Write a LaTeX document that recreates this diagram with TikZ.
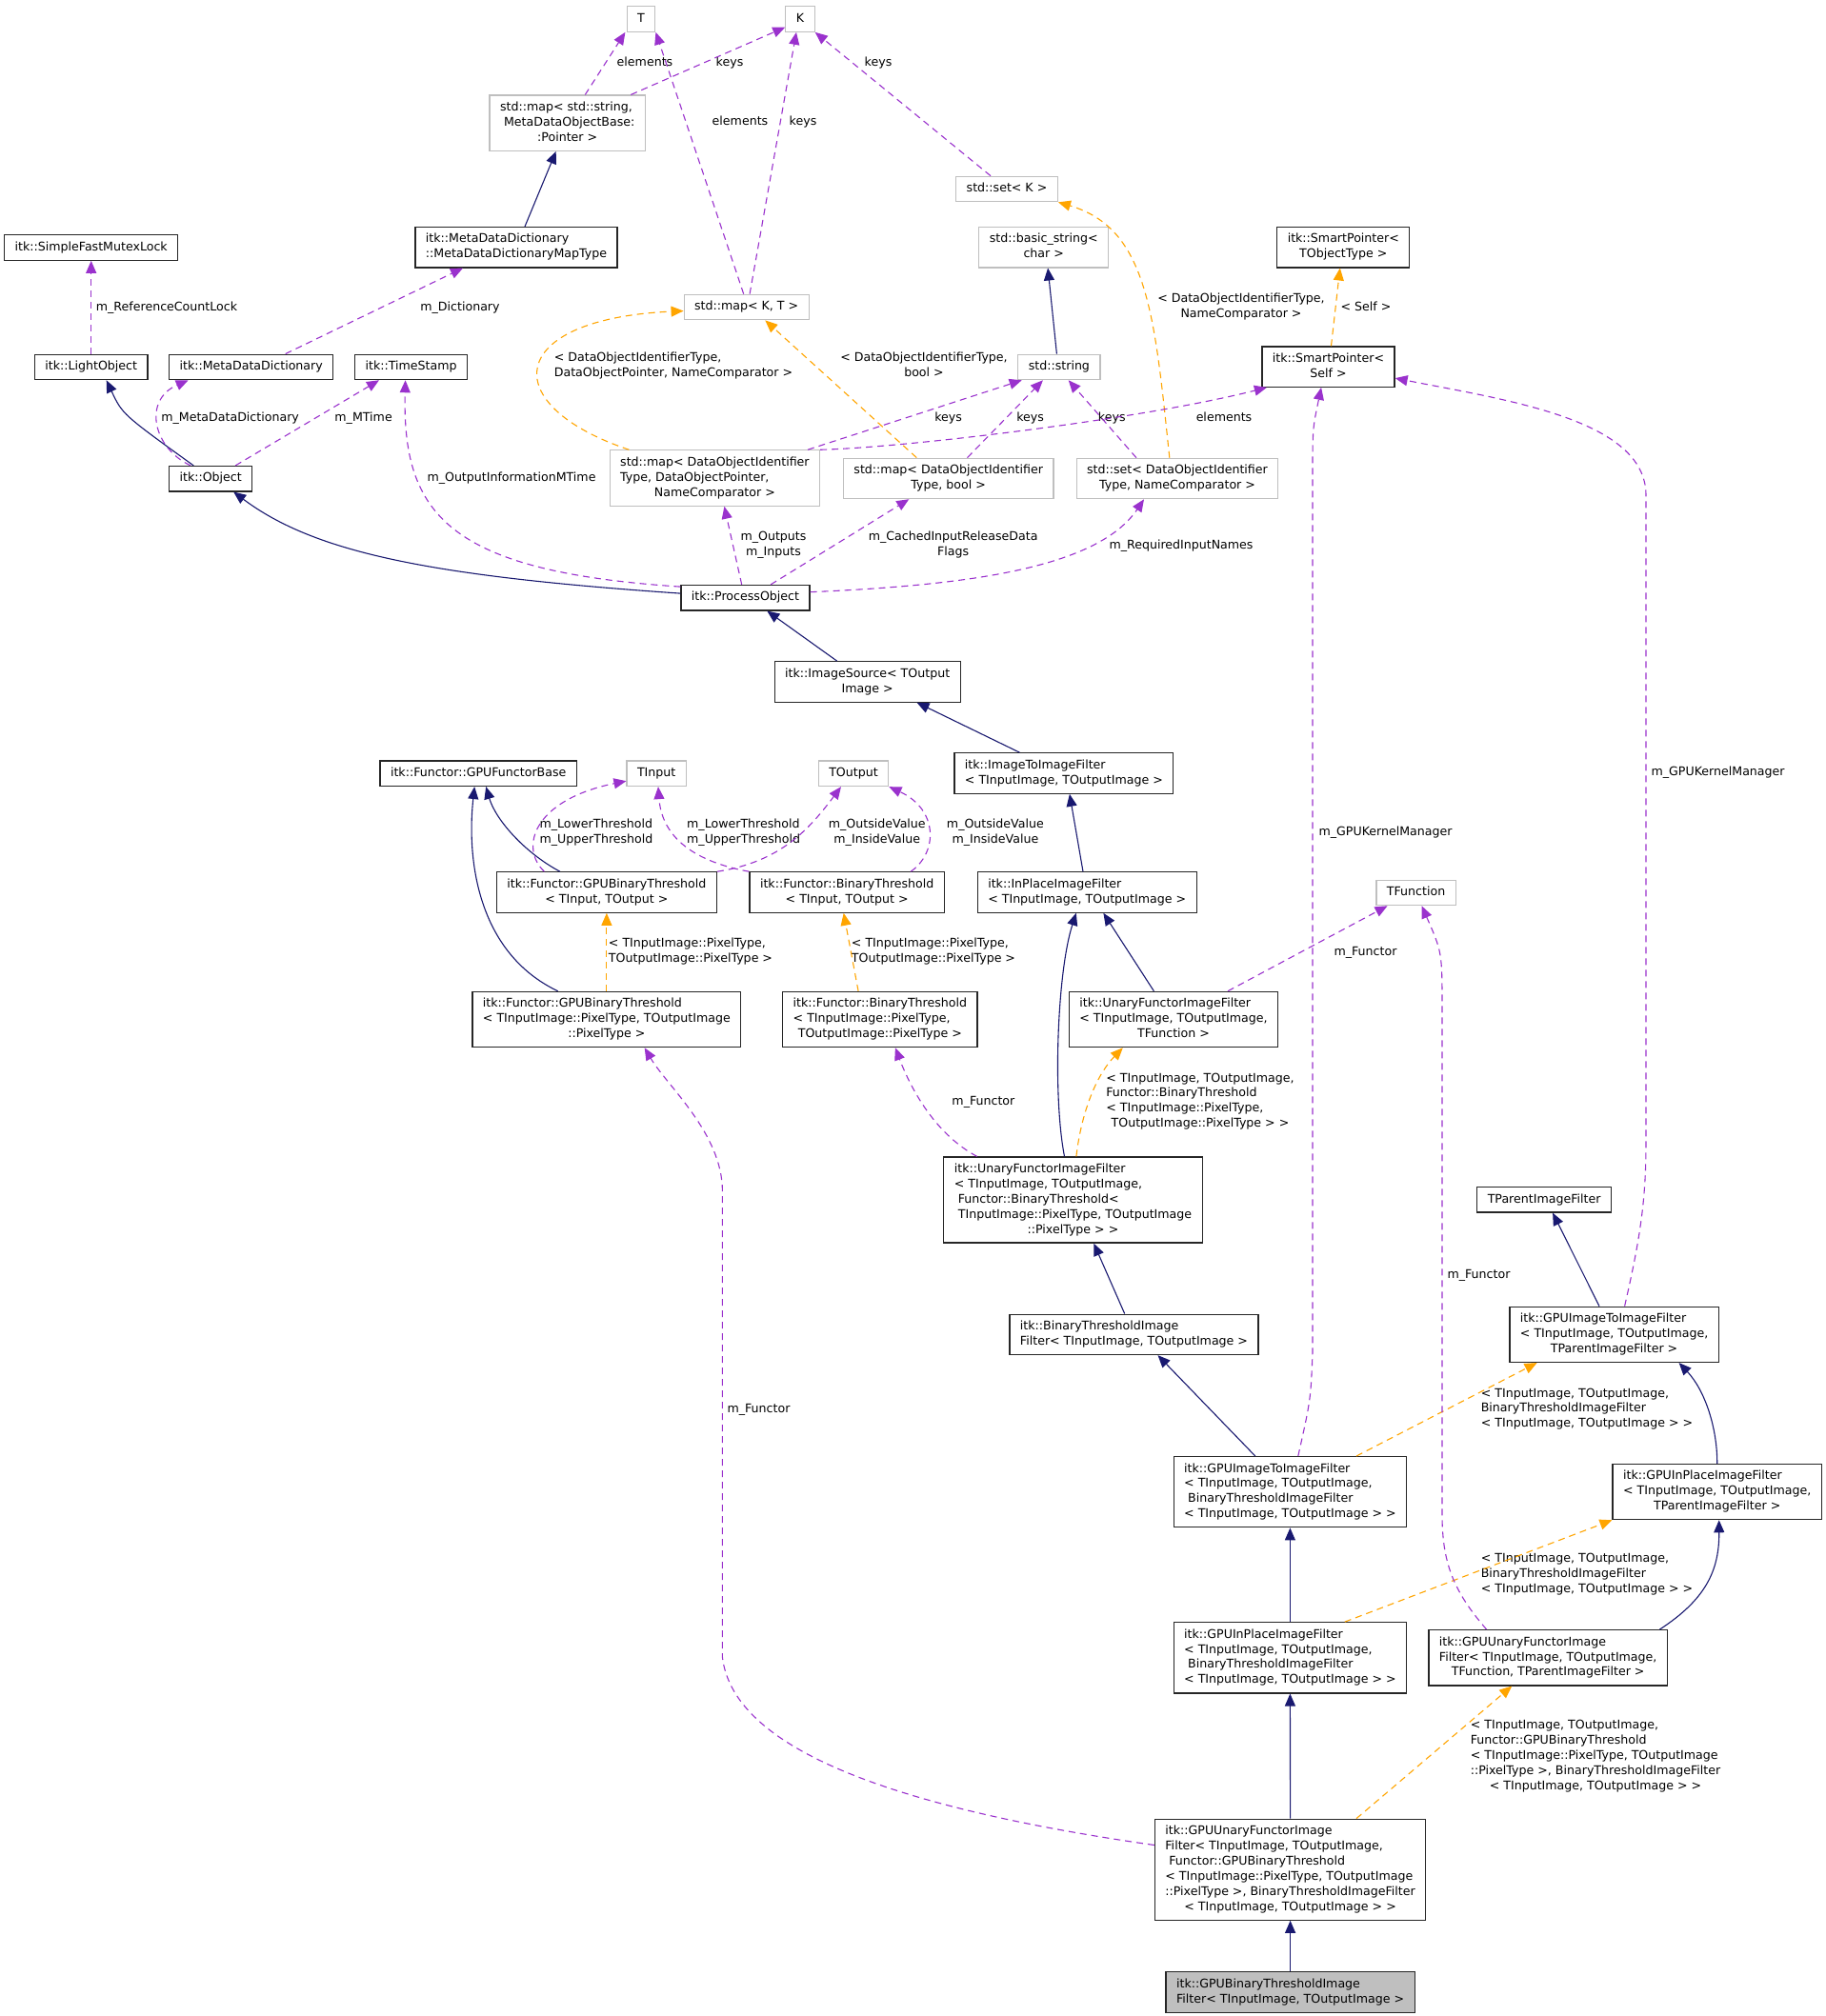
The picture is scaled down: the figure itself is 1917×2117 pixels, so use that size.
\documentclass[tikz,border=0pt]{standalone}
\usepackage{fontspec}
\setmainfont{DejaVu Sans}
\usetikzlibrary{arrows.meta}

\definecolor{inhblue}{HTML}{191970}
\definecolor{usepurple}{HTML}{9A32CD}
\definecolor{tplorange}{HTML}{FFA500}
\newcommand{\dxfont}{\fontsize{6.3pt}{7.95pt}\selectfont}
% all lines left, last line centred
\newcommand{\dlines}[2]{\begin{tabular}{@{}l@{}}#1\\\multicolumn{1}{@{}c@{}}{#2}\end{tabular}}

\begin{document}
\begin{tikzpicture}[x=0.5pt,y=-0.5pt,
  box/.style={draw=black!85,line width=0.6pt,fill=white,inner xsep=5.5pt,inner ysep=2.65pt,font=\dxfont,execute at begin node=\strut},
  extbox/.style={box,draw=black!25},
  mainbox/.style={box,fill=black!25},
  lbl/.style={inner sep=0pt,font=\dxfont,execute at begin node=\strut},
  inh/.style={draw=inhblue,line width=0.55pt,-{Triangle[length=6.5pt,width=5.5pt]}},
  usage/.style={draw=usepurple,line width=0.55pt,dash pattern=on 3.5pt off 2.5pt,-{Triangle[length=6.5pt,width=5.5pt]}},
  tmpl/.style={usage,draw=tplorange}]
\path[use as bounding box,fill=white] (0,0) rectangle (1917,2117);

% classes
\node[extbox] (nT) at (673,20) {T};
\node[extbox] (nK) at (840,20) {K};
\node[extbox] (nmapstr) at (595.7,129.2) {\dlines{std::map< std::string,\\\ MetaDataObjectBase:}{:Pointer >}};
\node[extbox] (nsetk) at (1057,198.5) {std::set< K >};
\node[box] (nmutex) at (95.7,260) {itk::SimpleFastMutexLock};
\node[box] (nmddmt) at (542,259.7) {\dlines{itk::MetaDataDictionary}{::MetaDataDictionaryMapType}};
\node[extbox] (nbstr) at (1095.7,259.7) {\dlines{std::basic\_string<}{char >}};
\node[box] (nspobj) at (1410.3,259.7) {\dlines{itk::SmartPointer<}{TObjectType >}};
\node[extbox] (nmapkt) at (783.7,322.5) {std::map< K, T >};
\node[box] (nlight) at (95.7,385.4) {itk::LightObject};
\node[box] (nmdd) at (263.7,385.4) {itk::MetaDataDictionary};
\node[box] (nstamp) at (431.6,385.4) {itk::TimeStamp};
\node[extbox] (nstr) at (1111.9,385.4) {std::string};
\node[box] (nspself) at (1394.5,385.1) {\dlines{itk::SmartPointer<}{Self >}};
\node[box] (nobj) at (221.2,502.7) {itk::Object};
\node[extbox] (nmapdop) at (750.4,502) {\dlines{std::map< DataObjectIdentifier\\Type, DataObjectPointer,}{NameComparator >}};
\node[extbox] (nmapbool) at (995.7,502.4) {\dlines{std::map< DataObjectIdentifier}{Type, bool >}};
\node[extbox] (nsetdoi) at (1236,502.5) {\dlines{std::set< DataObjectIdentifier}{Type, NameComparator >}};
\node[box] (nproc) at (782.5,627.7) {itk::ProcessObject};
\node[box] (nimgsrc) at (910.7,715.9) {\dlines{itk::ImageSource< TOutput}{Image >}};
\node[box] (nfbase) at (502.2,812.2) {itk::Functor::GPUFunctorBase};
\node[extbox] (ntin) at (689.2,812.3) {TInput};
\node[extbox] (ntout) at (896,812.3) {TOutput};
\node[box] (nitif) at (1116.9,812) {\dlines{itk::ImageToImageFilter}{< TInputImage, TOutputImage >}};
\node[box] (ngbt) at (636.9,937) {\dlines{itk::Functor::GPUBinaryThreshold}{< TInput, TOutput >}};
\node[box] (nbt) at (889.2,937) {\dlines{itk::Functor::BinaryThreshold}{< TInput, TOutput >}};
\node[box] (nipif) at (1141.2,937) {\dlines{itk::InPlaceImageFilter}{< TInputImage, TOutputImage >}};
\node[extbox] (ntfun) at (1486.6,937.4) {TFunction};
\node[box] (ngbtpix) at (636.9,1070.5) {\dlines{itk::Functor::GPUBinaryThreshold\\< TInputImage::PixelType, TOutputImage}{::PixelType >}};
\node[box] (nbtpix) at (923.9,1070.5) {\dlines{itk::Functor::BinaryThreshold\\< TInputImage::PixelType,}{TOutputImage::PixelType >}};
\node[box] (nufif) at (1232,1070.5) {\dlines{itk::UnaryFunctorImageFilter\\< TInputImage, TOutputImage,}{TFunction >}};
\node[box] (nufifbt) at (1126.5,1260) {\dlines{itk::UnaryFunctorImageFilter\\< TInputImage, TOutputImage,\\\ Functor::BinaryThreshold<\\\ TInputImage::PixelType, TOutputImage}{::PixelType > >}};
\node[box] (ntparent) at (1621.1,1259.8) {TParentImageFilter};
\node[box] (nbtif) at (1190.5,1401.3) {\dlines{itk::BinaryThresholdImage}{Filter< TInputImage, TOutputImage >}};
\node[box] (ngitif) at (1694.6,1401.3) {\dlines{itk::GPUImageToImageFilter\\< TInputImage, TOutputImage,}{TParentImageFilter >}};
\node[box] (ngitifbt) at (1354.4,1566.7) {\dlines{itk::GPUImageToImageFilter\\< TInputImage, TOutputImage,\\\ BinaryThresholdImageFilter}{< TInputImage, TOutputImage > >}};
\node[box] (ngipif) at (1802.7,1566.5) {\dlines{itk::GPUInPlaceImageFilter\\< TInputImage, TOutputImage,}{TParentImageFilter >}};
\node[box] (ngipifbt) at (1354.4,1740.8) {\dlines{itk::GPUInPlaceImageFilter\\< TInputImage, TOutputImage,\\\ BinaryThresholdImageFilter}{< TInputImage, TOutputImage > >}};
\node[box] (ngufif) at (1625.2,1740.8) {\dlines{itk::GPUUnaryFunctorImage\\Filter< TInputImage, TOutputImage,}{TFunction, TParentImageFilter >}};
\node[box] (ngufifbt) at (1354.6,1963.2) {\dlines{itk::GPUUnaryFunctorImage\\Filter< TInputImage, TOutputImage,\\\ Functor::GPUBinaryThreshold\\< TInputImage::PixelType, TOutputImage\\::PixelType >, BinaryThresholdImageFilter}{< TInputImage, TOutputImage > >}};
\node[mainbox] (ngbtif) at (1354.6,2092) {\dlines{itk::GPUBinaryThresholdImage}{Filter< TInputImage, TOutputImage >}};

% edge labels
\node[lbl] (lelem1) at (677,66.6) {elements};
\node[lbl] (lkeys1) at (766,66.6) {keys};
\node[lbl] (lkeys2) at (922,66.6) {keys};
\node[lbl] (lelem2) at (777,128.5) {elements};
\node[lbl] (lkeys3) at (843,128.5) {keys};
\node[lbl] (lrefcnt) at (175,323) {m\_ReferenceCountLock};
\node[lbl] (ldict) at (483,323) {m\_Dictionary};
\node[lbl] (lself) at (1434,323) {< Self >};
\node[lbl] (ltplset) at (1303,322.5) {\dlines{< DataObjectIdentifierType,}{NameComparator >}};
\node[lbl] (ltplmap) at (707,384.2) {\dlines{< DataObjectIdentifierType,}{DataObjectPointer, NameComparator >}};
\node[lbl] (ltplbool) at (970,384.2) {\dlines{< DataObjectIdentifierType,}{bool >}};
\node[lbl] (lmdd) at (241.6,439.5) {m\_MetaDataDictionary};
\node[lbl] (lmtime) at (381.6,439.5) {m\_MTime};
\node[lbl] (lkeys4) at (995.6,439.5) {keys};
\node[lbl] (lkeys5) at (1081.6,439.5) {keys};
\node[lbl] (lkeys6) at (1167.3,439.5) {keys};
\node[lbl] (lelem3) at (1285,439.5) {elements};
\node[lbl] (loimt) at (537,502.7) {m\_OutputInformationMTime};
\node[lbl] (loutin) at (812,572.6) {\dlines{m\_Outputs}{m\_Inputs}};
\node[lbl] (lcached) at (1000.6,572.6) {\dlines{m\_CachedInputReleaseData}{Flags}};
\node[lbl] (lreq) at (1240,572.9) {m\_RequiredInputNames};
\node[lbl] (lgkm2) at (1803.6,811.6) {m\_GPUKernelManager};
\node[lbl] (lgkm1) at (1454.6,874.8) {m\_GPUKernelManager};
\node[lbl] (llu1) at (626,874.4) {\dlines{m\_LowerThreshold}{m\_UpperThreshold}};
\node[lbl] (llu2) at (780.6,874.4) {\dlines{m\_LowerThreshold}{m\_UpperThreshold}};
\node[lbl] (loi1) at (920.8,874.4) {\dlines{m\_OutsideValue}{m\_InsideValue}};
\node[lbl] (loi2) at (1044.9,874.4) {\dlines{m\_OutsideValue}{m\_InsideValue}};
\node[lbl] (lpix1) at (725,999.6) {\dlines{< TInputImage::PixelType,}{TOutputImage::PixelType >}};
\node[lbl] (lpix2) at (980,999.6) {\dlines{< TInputImage::PixelType,}{TOutputImage::PixelType >}};
\node[lbl] (lfun1) at (1433.5,1000) {m\_Functor};
\node[lbl] (lfun2) at (1032.4,1157) {m\_Functor};
\node[lbl] (ltplufif) at (1260,1156.7) {\dlines{< TInputImage, TOutputImage,\\Functor::BinaryThreshold\\< TInputImage::PixelType,}{TOutputImage::PixelType > >}};
\node[lbl] (lfun3) at (1552.5,1339) {m\_Functor};
\node[lbl] (lfun4) at (796.5,1480) {m\_Functor};
\node[lbl] (ltplgitif) at (1666,1479.7) {\dlines{< TInputImage, TOutputImage,\\BinaryThresholdImageFilter}{< TInputImage, TOutputImage > >}};
\node[lbl] (ltplgipif) at (1666,1653) {\dlines{< TInputImage, TOutputImage,\\BinaryThresholdImageFilter}{< TInputImage, TOutputImage > >}};
\node[lbl] (ltplgufif) at (1675,1844) {\dlines{< TInputImage, TOutputImage,\\Functor::GPUBinaryThreshold\\< TInputImage::PixelType, TOutputImage\\::PixelType >, BinaryThresholdImageFilter}{< TInputImage, TOutputImage > >}};

% std containers
\draw[usage] ([xshift=9.3pt]nmapstr.north) -- ([xshift=-8.3pt]nT.south);
\draw[usage] ([xshift=33.3pt]nmapstr.north) -- ([yshift=-4.3pt]nK.west);
\draw[usage] ([xshift=-1.5pt]nmapkt.north) -- (nT.south east);
\draw[usage] ([xshift=1.7pt]nmapkt.north) -- ([xshift=-2pt]nK.south);
\draw[usage] ([xshift=-8.5pt]nsetk.north) -- (nK.south east);
\draw[inh] ([xshift=4.5pt]nmddmt.north) -- ([xshift=-6pt]nmapstr.south);
\draw[inh] ([xshift=-1.25pt]nstr.north) -- ([xshift=2.2pt]nbstr.south);
\draw[tmpl] ([xshift=-45pt]nmapdop.north) .. controls (520,425) and (530,335) .. ([yshift=-2pt]nmapkt.west);
\draw[tmpl] ([xshift=-16.7pt]nmapbool.north) -- ([xshift=9.8pt]nmapkt.south);
\draw[tmpl] ([xshift=-4.1pt]nsetdoi.north) .. controls (1212,330) and (1205,240) .. (nsetk.south east);
\draw[usage] ([xshift=48.8pt]nmapdop.north) -- ([xshift=-19.6pt]nstr.south);
\draw[usage] (nmapdop.north east) .. controls (950,470) and (1200,440) .. ([xshift=-32.3pt]nspself.south);
\draw[usage] ([xshift=9.9pt]nmapbool.north) -- ([xshift=-8.5pt]nstr.south);
\draw[usage] ([xshift=-21.5pt]nsetdoi.north) -- ([xshift=4.9pt]nstr.south);
\draw[tmpl] ([xshift=1.5pt]nspself.north) -- ([xshift=-1.75pt]nspobj.south);

% object base
\draw[usage] (nlight.north) -- (nmutex.south);
\draw[usage] ([xshift=18pt]nmdd.north) -- ([xshift=-28pt]nmddmt.south);
\draw[inh] ([xshift=-9pt]nobj.north) .. controls (128.5,435) .. ([xshift=8pt]nlight.south);
\draw[usage] ([xshift=-10.6pt]nobj.north) .. controls (160,470) and (150,420) .. ([xshift=-33pt]nmdd.south);
\draw[usage] ([xshift=13pt]nobj.north) -- ([xshift=-16.8pt]nstamp.south);
\draw[inh] ([yshift=2.3pt]nproc.west) .. controls (450,605) and (330,580) .. ([xshift=12pt]nobj.south);
\draw[usage] ([yshift=5.8pt]nproc.west) .. controls (470,600) and (422,540) .. ([xshift=-3pt]nstamp.south);
\draw[usage] ([xshift=-1.9pt]nproc.north) -- ([xshift=5pt]nmapdop.south);
\draw[usage] ([xshift=13.3pt]nproc.north) -- ([xshift=-20.7pt]nmapbool.south);
\draw[usage] ([yshift=3pt]nproc.east) .. controls (1000,615) and (1150,600) .. ([xshift=-17.5pt]nsetdoi.south);

% filters
\draw[inh] ([xshift=-16pt]nimgsrc.north) -- ([xshift=11.4pt]nproc.south);
\draw[inh] ([xshift=-23.2pt]nitif.north) -- ([xshift=25.9pt]nimgsrc.south);
\draw[inh] ([xshift=-2.1pt]nipif.north) -- ([xshift=3pt]nitif.south);
\draw[inh] ([xshift=-10.3pt]nufif.north) -- ([xshift=8.6pt]nipif.south);
\draw[inh] ([xshift=-4.5pt]nufifbt.north) .. controls (1105,1150) and (1110,1020) .. ([xshift=-5.7pt]nipif.south);
\draw[tmpl] ([xshift=1.7pt]nufifbt.north) .. controls (1135,1170) and (1150,1130) .. ([xshift=-26.6pt]nufif.south);
\draw[usage] ([xshift=-50.4pt]nufifbt.north) .. controls (980,1190) and (955,1140) .. ([xshift=8pt]nbtpix.south);
\draw[usage] ([xshift=28.5pt]nufif.north) -- ([xshift=-15pt]ntfun.south);
\draw[inh] ([xshift=-4.9pt]nbtif.north) -- ([xshift=10.9pt]nufifbt.south);

% functors
\draw[tmpl] ([xshift=-11.4pt]nbtpix.north) -- ([xshift=-1.75pt]nbt.south);
\draw[tmpl] (ngbtpix.north) -- (ngbt.south);
\draw[inh] ([xshift=-24.5pt]ngbt.north) .. controls (550,895) and (520,860) .. ([xshift=4pt]nfbase.south);
\draw[inh] ([xshift=-25.6pt]ngbtpix.north) .. controls (500,1000) and (490,900) .. ([xshift=-2pt]nfbase.south);
\draw[usage] ([xshift=-32.75pt]ngbt.north) .. controls (545,890) and (560,840) .. ([yshift=3pt]ntin.south west);
\draw[usage] (ngbt.north east) .. controls (820,905) and (850,870) .. ([xshift=-6.5pt]ntout.south);
\draw[usage] (nbt.north west) .. controls (730,905) and (695,880) .. ([xshift=0.9pt]ntin.south);
\draw[usage] ([xshift=33.5pt]nbt.north) .. controls (985,895) and (985,850) .. (ntout.south east);

% GPU filters
\draw[usage] ([xshift=4.2pt]ngitifbt.north) .. controls (1376,1470) .. (1378,1420) -- (1378,500) .. controls (1378,450) .. ([xshift=-3.7pt]nspself.south);
\draw[usage] ([xshift=5.5pt]ngitif.north) .. controls (1722,1300) and (1728,1260) .. (1728,1200) -- (1728,520) .. controls (1728,440) and (1580,420) .. ([yshift=-6pt]nspself.east);
\draw[inh] ([xshift=-7.8pt]ngitif.north) -- ([xshift=4.5pt]ntparent.south);
\draw[tmpl] ([xshift=34.8pt]ngitifbt.north) -- ([xshift=-40.5pt]ngitif.south);
\draw[inh] ([xshift=-18.3pt]ngitifbt.north) -- ([xshift=12.5pt]nbtif.south);
\draw[inh] (ngipif.north) .. controls (1803,1500) and (1790,1460) .. ([xshift=34pt]ngitif.south);
\draw[inh] (ngipifbt.north) -- (ngitifbt.south);
\draw[tmpl] ([xshift=28.7pt]ngipifbt.north) -- (ngipif.south west);
\draw[inh] ([xshift=58.6pt]ngufif.north) .. controls (1790,1680) and (1805,1650) .. ([xshift=1pt]ngipif.south);
\draw[usage] ([xshift=-32.3pt]ngufif.north) .. controls (1525,1670) and (1514,1640) .. (1514,1590) -- (1514,1060) .. controls (1514,1000) .. ([xshift=3pt]ntfun.south);
\draw[inh] (ngufifbt.north) -- (ngipifbt.south);
\draw[tmpl] ([xshift=34.7pt]ngufifbt.north) -- ([xshift=-19pt]ngufif.south);
\draw[usage] ([yshift=12.85pt]ngufifbt.west) .. controls (950,1900) and (770,1840) .. (758.4,1740) -- (758.4,1250) .. controls (758,1190) and (700,1140) .. ([xshift=19.9pt]ngbtpix.south);
\draw[inh] (ngbtif.north) -- (ngufifbt.south);
\end{tikzpicture}
\end{document}
